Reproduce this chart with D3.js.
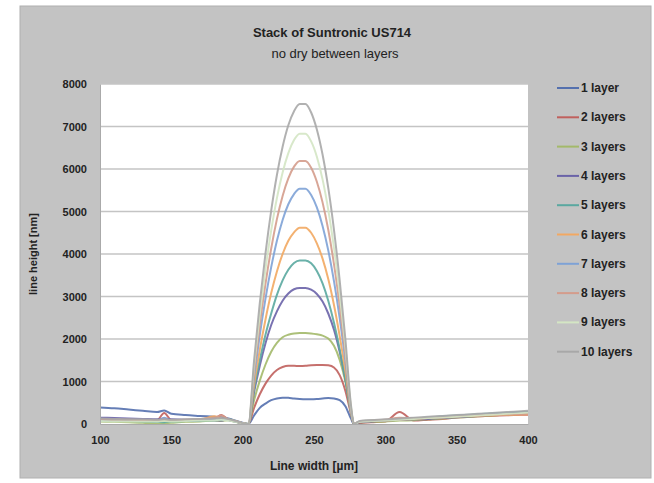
<!DOCTYPE html>
<html>
<head>
<meta charset="utf-8">
<script src="https://cdn.jsdelivr.net/npm/d3@7"></script>
<style>
  body { margin: 0; background: #fff; }
  text { font-family: "Liberation Sans", sans-serif; fill: #222; }
</style>
</head>
<body>
<div id="chart"></div>
<script>
(function() {
  // line width positions (µm)
  var widths = [100, 110, 120, 130, 140, 145, 150, 160, 170, 180, 185, 190, 195, 200,
    204, 208, 212, 216, 220, 224, 228, 232, 236, 240, 244, 248, 252, 256, 260, 264, 268, 272, 276, 278,
    282, 290, 300, 310, 320, 330, 340, 350, 360, 370, 380, 390, 400];

  var layer1 = [390, 370, 340, 310, 280, 320, 240, 210, 190, 170, 160, 130, 80, 30,
    0, 200, 380, 480, 560, 600, 620, 615, 600, 590, 585, 585, 590, 600, 610, 600, 560, 420, 120, 0,
    30, 60, 90, 110, 130, 150, 170, 190, 210, 230, 250, 270, 290];
  var layer2 = [120, 110, 100, 95, 90, 260, 90, 80, 90, 120, 210, 100, 60, 20,
    0, 380, 700, 950, 1140, 1270, 1340, 1370, 1370, 1365, 1370, 1385, 1390, 1390, 1380, 1330, 1150, 780, 230, 0,
    20, 40, 60, 280, 80, 100, 120, 150, 170, 190, 200, 210, 220];
  var layer3 = [60, 50, 40, 30, 10, 20, 30, 50, 60, 80, 70, 90, 50, 10,
    0, 560, 1020, 1400, 1700, 1910, 2040, 2100, 2130, 2140, 2140, 2130, 2110, 2080, 2010, 1840, 1510, 1000, 300, 0,
    40, 50, 60, 80, 90, 110, 130, 150, 170, 190, 210, 230, 250];
  var layer4 = [150, 140, 130, 120, 110, 130, 110, 100, 100, 90, 80, 120, 60, 20,
    0, 750, 1370, 1900, 2330, 2650, 2900, 3070, 3170, 3200, 3200, 3160, 3060, 2880, 2600, 2220, 1700, 1060, 280, 0,
    40, 60, 80, 100, 110, 120, 140, 160, 180, 200, 220, 240, 260];
  var layer5 = [80, 70, 70, 60, 50, 40, 60, 70, 80, 90, 100, 110, 70, 20,
    0, 830, 1500, 2100, 2600, 3040, 3380, 3630, 3790, 3850, 3850, 3780, 3600, 3310, 2900, 2380, 1760, 1050, 250, 0,
    60, 80, 90, 110, 130, 150, 180, 200, 220, 240, 260, 270, 280];
  var layer6 = [100, 90, 90, 80, 70, 80, 80, 90, 100, 180, 130, 100, 60, 20,
    0, 920, 1745, 2460, 3080, 3590, 4000, 4310, 4510, 4620, 4620, 4500, 4250, 3890, 3410, 2800, 2070, 1230, 260, 0,
    50, 70, 80, 100, 120, 140, 160, 180, 190, 200, 210, 220, 230];
  var layer7 = [90, 80, 80, 70, 70, 150, 70, 80, 90, 100, 110, 90, 50, 20,
    0, 1105, 2090, 2950, 3690, 4310, 4800, 5170, 5410, 5535, 5535, 5390, 5095, 4660, 4085, 3360, 2490, 1470, 310, 0,
    50, 70, 90, 110, 130, 150, 170, 190, 210, 230, 240, 250, 260];
  var layer8 = [110, 100, 100, 90, 90, 100, 90, 100, 120, 150, 200, 110, 70, 20,
    0, 1235, 2340, 3300, 4130, 4820, 5365, 5780, 6055, 6190, 6190, 6030, 5700, 5215, 4570, 3760, 2780, 1645, 350, 0,
    60, 80, 100, 150, 130, 150, 160, 180, 200, 210, 220, 230, 240];
  var layer9 = [70, 60, 60, 60, 60, 70, 60, 70, 80, 90, 100, 80, 50, 20,
    0, 1365, 2580, 3645, 4555, 5315, 5920, 6375, 6680, 6830, 6830, 6650, 6290, 5755, 5040, 4145, 3070, 1815, 385, 0,
    50, 70, 80, 100, 120, 140, 150, 170, 190, 210, 230, 250, 270];
  var layer10 = [130, 120, 110, 110, 100, 110, 100, 110, 120, 130, 140, 120, 70, 20,
    0, 1500, 2845, 4015, 5020, 5860, 6525, 7030, 7360, 7530, 7530, 7330, 6930, 6340, 5555, 4570, 3380, 2000, 420, 0,
    70, 90, 110, 130, 150, 170, 190, 210, 230, 250, 270, 290, 310];

  var seriesNames = ["1 layer", "2 layers", "3 layers", "4 layers", "5 layers",
    "6 layers", "7 layers", "8 layers", "9 layers", "10 layers"];
  var seriesValues = [layer1, layer2, layer3, layer4, layer5, layer6, layer7, layer8, layer9, layer10];
  var seriesColors = ["#5470ae", "#c0605d", "#a3b96a", "#6a63a8", "#5aa8a0",
    "#f2a862", "#7ea2d6", "#d49c8c", "#d4e6c4", "#a8a8a8"];

  var xTicks = [100, 150, 200, 250, 300, 350, 400];
  var yTicks = [0, 1000, 2000, 3000, 4000, 5000, 6000, 7000, 8000];

  var W = 654, H = 483;
  var plot = { left: 100, right: 528, top: 84, bottom: 424 };

  var svg = d3.select("#chart").append("svg").attr("width", W).attr("height", H);

  svg.append("rect").attr("x", 20).attr("y", 6).attr("width", 631).attr("height", 472)
    .attr("fill", "#c3c3c3").attr("stroke", "#b0b0b0");

  var x = d3.scaleLinear().domain([100, 400]).range([plot.left, plot.right]);
  var y = d3.scaleLinear().domain([0, 8000]).range([plot.bottom, plot.top]);

  svg.append("rect").attr("x", plot.left).attr("y", plot.top)
    .attr("width", plot.right - plot.left).attr("height", plot.bottom - plot.top)
    .attr("fill", "#fff");

  // gridlines
  svg.append("g").selectAll("line").data(yTicks.slice(1)).enter().append("line")
    .attr("x1", plot.left).attr("x2", plot.right)
    .attr("y1", function(d) { return y(d); }).attr("y2", function(d) { return y(d); })
    .attr("stroke", "#c4c4c4").attr("stroke-width", 1.5);

  var line = d3.line()
    .x(function(d) { return x(d[0]); })
    .y(function(d) { return y(d[1]); })
    .curve(d3.curveMonotoneX);

  var i;
  for (i = 0; i < seriesValues.length; i++) {
    svg.append("path")
      .datum(d3.zip(widths, seriesValues[i]))
      .attr("d", line)
      .attr("fill", "none")
      .attr("stroke", seriesColors[i])
      .attr("stroke-width", 2)
      .attr("opacity", 0.9);
  }

  // axes
  var xAxis = d3.axisBottom(x).tickValues(xTicks).tickSize(0).tickPadding(12);
  var gx = svg.append("g").attr("transform", "translate(0," + plot.bottom + ")").call(xAxis);
  gx.select(".domain").attr("stroke", "#aaa");
  gx.selectAll("text").style("font-size", "11px").style("font-weight", "bold")
    .style("font-family", null).attr("fill", "#222");

  var yAxis = d3.axisLeft(y).tickValues(yTicks).tickFormat(d3.format("d")).tickSize(0).tickPadding(13);
  var gy = svg.append("g").attr("transform", "translate(" + plot.left + ",0)").call(yAxis);
  gy.select(".domain").attr("stroke", "#aaa");
  gy.selectAll("text").style("font-size", "11px").style("font-weight", "bold")
    .style("font-family", null).attr("fill", "#222");

  // titles
  svg.append("text").attr("x", 332).attr("y", 37).attr("text-anchor", "middle")
    .style("font-size", "13px").style("font-weight", "bold").text("Stack of Suntronic US714");
  svg.append("text").attr("x", 335).attr("y", 58).attr("text-anchor", "middle")
    .style("font-size", "13px").text("no dry between layers");

  svg.append("text").attr("x", (plot.left + plot.right) / 2).attr("y", 470).attr("text-anchor", "middle")
    .style("font-size", "12px").style("font-weight", "bold").text("Line width [µm]");
  svg.append("text").attr("transform", "translate(37," + ((plot.top + plot.bottom) / 2) + ") rotate(-90)")
    .attr("text-anchor", "middle")
    .style("font-size", "11px").style("font-weight", "bold").text("line height [nm]");

  // legend
  var legend = svg.append("g").selectAll("g").data(seriesNames).enter().append("g")
    .attr("transform", function(d, k) { return "translate(557," + (88 + k * 29.3) + ")"; });
  legend.append("line").attr("x1", 0).attr("x2", 22)
    .attr("stroke", function(d, k) { return seriesColors[k]; }).attr("stroke-width", 2);
  legend.append("text").attr("x", 24).attr("y", 4)
    .style("font-size", "12px").style("font-weight", "bold").text(function(d) { return d; });
})();
</script>
</body>
</html>
